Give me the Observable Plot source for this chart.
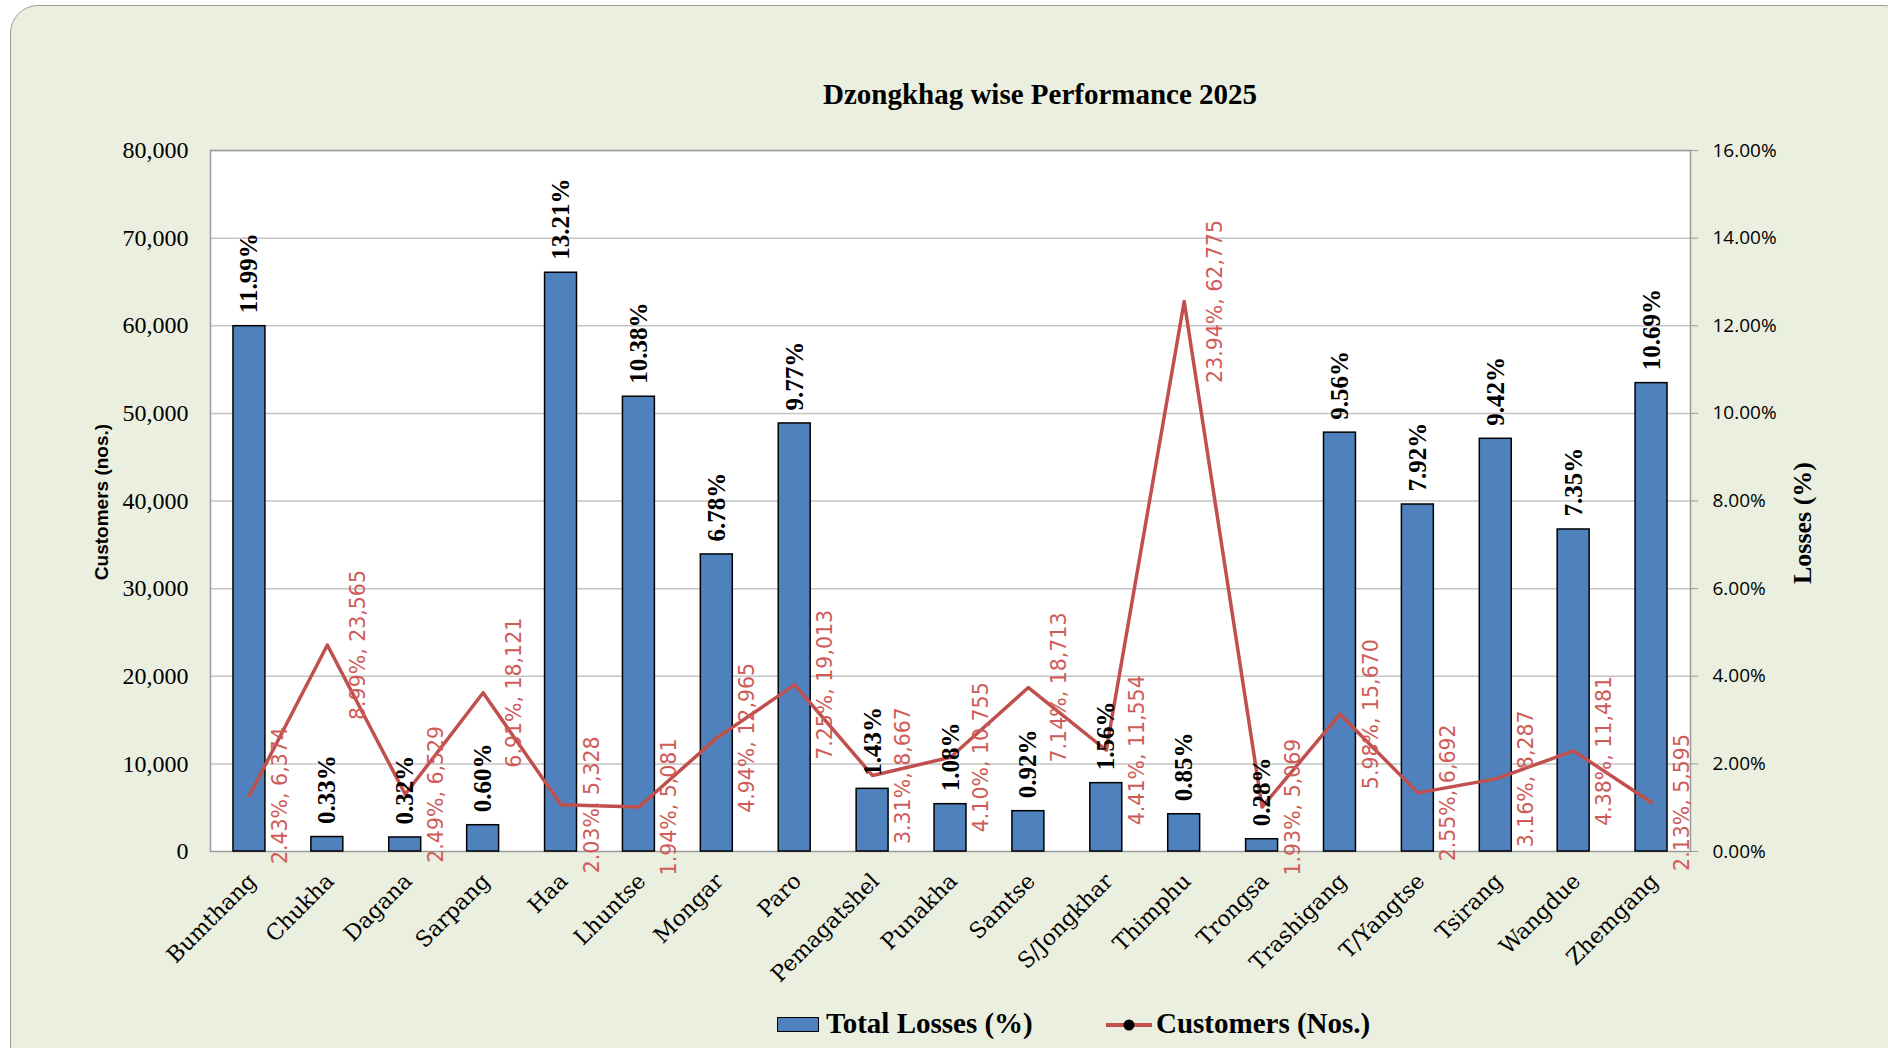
<!DOCTYPE html>
<html>
<head>
<meta charset="utf-8">
<script src="https://cdn.jsdelivr.net/npm/d3@7"></script>
<script src="https://cdn.jsdelivr.net/npm/@observablehq/plot@0.6"></script>
<style>
  html, body { margin: 0; padding: 0; background: #ffffff; width: 1888px; height: 1048px; overflow: hidden; }
  #card { position: absolute; left: 10px; top: 5px; width: 1900px; height: 1100px; background: #EBEFDF; border: 1.5px solid #9C9C9C; border-radius: 28px; }
  #chart { position: absolute; left: 0; top: 0; }
  .abs { position: absolute; white-space: nowrap; color: #000; }
  #title { left: 1040px; top: 78px; transform: translateX(-50%); font: bold 29px "Liberation Serif", serif; }
  #ytitleL { left: 102px; top: 502px; transform: translate(-50%, -50%) rotate(-90deg); font: bold 19px "Liberation Sans", sans-serif; }
  #ytitleR { left: 1803px; top: 523px; transform: translate(-50%, -50%) rotate(-90deg); font: bold 26px "Liberation Serif", serif; }
  .legtext { font: bold 29px "Liberation Serif", serif; top: 1007px; }
</style>
</head>
<body>
<div id="card"></div>
<div id="chart"></div>
<div id="title" class="abs">Dzongkhag wise Performance 2025</div>
<div id="ytitleL" class="abs">Customers (nos.)</div>
<div id="ytitleR" class="abs">Losses (%)</div>
<div id="legend"></div>
<script>
// ---- data ----
const categories = ["Bumthang","Chukha","Dagana","Sarpang","Haa","Lhuntse","Mongar","Paro","Pemagatshel","Punakha","Samtse","S/Jongkhar","Thimphu","Trongsa","Trashigang","T/Yangtse","Tsirang","Wangdue","Zhemgang"];
const totalLossesPct = [11.99,0.33,0.32,0.60,13.21,10.38,6.78,9.77,1.43,1.08,0.92,1.56,0.85,0.28,9.56,7.92,9.42,7.35,10.69];
const customers = [6374,23565,6529,18121,5328,5081,12965,19013,8667,10755,18713,11554,62775,5069,15670,6692,8287,11481,5595];
const customerSharePct = [2.43,8.99,2.49,6.91,2.03,1.94,4.94,7.25,3.31,4.10,7.14,4.41,23.94,1.93,5.98,2.55,3.16,4.38,2.13];
const leftTicks = [0,10000,20000,30000,40000,50000,60000,70000,80000];
const rightTicks = [0,2,4,6,8,10,12,14,16];
const legendItems = ["Total Losses (%)", "Customers (Nos.)"];

// left axis max / right axis max ratio
const ratio = leftTicks[leftTicks.length-1] / rightTicks[rightTicks.length-1];

const rows = categories.map((c, i) => ({
  cat: c,
  loss: totalLossesPct[i],
  lossScaled: totalLossesPct[i] * ratio,
  cust: customers[i],
  share: customerSharePct[i]
}));
const fmt = d3.format(",");

const chart = Plot.plot({
  width: 1888,
  height: 1048,
  marginTop: 150,
  marginBottom: 197,
  marginLeft: 210,
  marginRight: 198,
  style: { background: "transparent", overflow: "visible" },
  x: { domain: categories, paddingInner: 0.59, paddingOuter: 0.295, round: false, label: null },
  y: { domain: [0, 80000], label: null },
  marks: [
    Plot.frame({ fill: "white", stroke: null }),
    Plot.ruleY(leftTicks.slice(1), { stroke: "#C4C4C4", strokeWidth: 1.5 }),
    Plot.frame({ stroke: "#9A9A9A", strokeWidth: 1.5 }),
    Plot.barY(rows, { x: "cat", y: "lossScaled", fill: "#4F81BD", stroke: "#000", strokeWidth: 1.5 }),
    Plot.line(rows, { x: "cat", y: "cust", stroke: "#C0504D", strokeWidth: 3.5 }),
    Plot.text(rows, { x: "cat", y: "lossScaled", text: d => d.loss.toFixed(2) + "%", rotate: -90, textAnchor: "start", dy: -13,
      fontFamily: "Liberation Serif", fontWeight: "bold", fontSize: 25, fill: "#000" }),
    Plot.text(rows, { x: "cat", y: "cust", text: d => d.share.toFixed(2) + "%, " + fmt(d.cust), rotate: -90, textAnchor: "middle", dx: 31,
      fontFamily: "DejaVu Sans", fontSize: 20.5, fill: "#CF5B58" }),
    Plot.axisY(leftTicks, { anchor: "left", tickSize: 0, tickPadding: 22, tickFormat: d => fmt(d), label: null,
      fontFamily: "Liberation Serif", fontSize: 24, fill: "#000" }),
    Plot.axisY(rightTicks.map(t => t * ratio), { anchor: "right", tickSize: 7, tickPadding: 15, stroke: "#9A9A9A", label: null,
      tickFormat: d => (d / ratio).toFixed(2) + "%", fontFamily: "Open Sans", fontSize: 19, fill: "#000" }),
    Plot.axisX({ anchor: "bottom", tickSize: 0, tickPadding: 26, tickRotate: -45, dx: 3, label: null,
      fontFamily: "DejaVu Serif", fontSize: 22, fill: "#000" })
  ]
});
document.getElementById("chart").appendChild(chart);

// legend
const leg = document.getElementById("legend");
leg.innerHTML = `
  <div class="abs" style="left:777px;top:1017px;width:40px;height:13px;background:#4F81BD;border:1.5px solid #000;"></div>
  <div class="abs legtext" style="left:826px;">${legendItems[0]}</div>
  <svg class="abs" style="left:1104px;top:1013px;" width="50" height="24">
    <line x1="2" y1="12" x2="48" y2="12" stroke="#C0504D" stroke-width="4"/>
    <circle cx="25" cy="12" r="5.5" fill="#000"/>
  </svg>
  <div class="abs legtext" style="left:1156px;">${legendItems[1]}</div>`;
</script>
</body>
</html>
